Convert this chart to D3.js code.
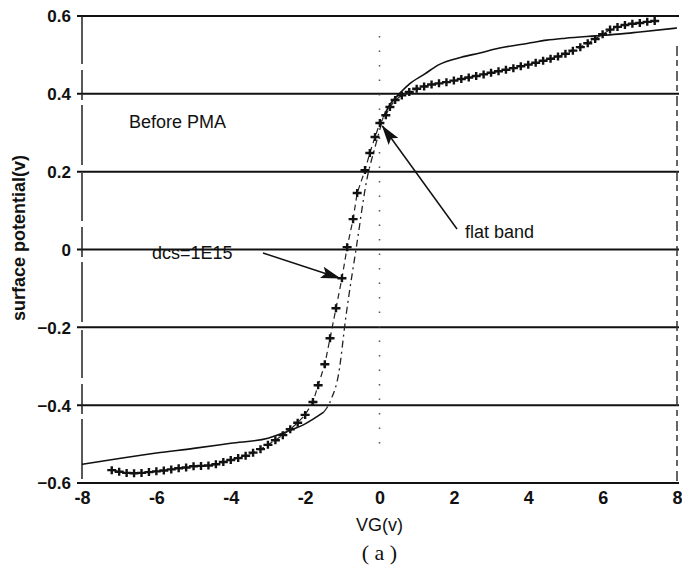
<!DOCTYPE html>
<html>
<head>
<meta charset="utf-8">
<script src="https://cdn.jsdelivr.net/npm/d3@7"></script>
<style>
  body { margin: 0; background: #fff; }
  svg text { font-family: "Liberation Sans", Arial, sans-serif; fill: #111; }
</style>
</head>
<body>
<div id="chart"></div>
<script>
// gate bias (V) vs surface potential (V), before PMA
const yTicks = [-0.6, -0.4, -0.2, 0, 0.2, 0.4, 0.6];
const xTicks = [-8, -6, -4, -2, 0, 2, 4, 6, 8];
const xTickLabels = ['-8', '-6', '-4', '-2', '0', '2', '4', '6', '8'];

// simulated curve (solid)
const modelVg = [-8, -7, -6, -5, -4, -3, -2.5, -2, -1.5, -1.3, -1.1, -0.9, -0.6, -0.35, -0.1, 0.1, 0.3, 0.55, 0.8, 1.2, 1.6, 2.2, 2.7, 3.2, 4, 4.5, 5, 5.8, 6.5, 7, 8];
const modelPsi = [-0.552, -0.537, -0.523, -0.511, -0.498, -0.485, -0.468, -0.448, -0.418, -0.385, -0.32, -0.17, 0.02, 0.175, 0.27, 0.34, 0.375, 0.402, 0.425, 0.45, 0.475, 0.494, 0.505, 0.517, 0.53, 0.538, 0.543, 0.549, 0.554, 0.559, 0.569];

// measured points (+), dcs = 1E15
const measVg = [-7.2, -7.0, -6.8, -6.6, -6.4, -6.2, -6.0, -5.8, -5.6, -5.4, -5.2, -5.0, -4.8, -4.6, -4.4, -4.2, -4.0, -3.8, -3.6, -3.4, -3.2, -3.0, -2.8, -2.6, -2.4, -2.2, -2.0,
  -1.79, -1.65, -1.47, -1.33, -1.17, -1.01, -0.87, -0.71, -0.6, -0.39, -0.26, -0.12, 0.01, 0.17, 0.28, 0.42,
  0.6, 0.8, 1.0, 1.2, 1.4, 1.6, 1.8, 2.0, 2.2, 2.4, 2.6, 2.8, 3.0, 3.2, 3.4, 3.6, 3.8, 4.0, 4.2, 4.4, 4.6, 4.8, 5.0, 5.2, 5.4, 5.6, 5.8, 6.0, 6.2, 6.4, 6.6, 6.8, 7.0, 7.2, 7.4];
const measPsi = [-0.567, -0.571, -0.574, -0.575, -0.574, -0.572, -0.570, -0.568, -0.565, -0.562, -0.560, -0.557, -0.556, -0.555, -0.552, -0.546, -0.541, -0.536, -0.530, -0.522, -0.513, -0.502, -0.490, -0.477, -0.462, -0.445, -0.425,
  -0.392, -0.349, -0.295, -0.228, -0.151, -0.074, 0.006, 0.078, 0.145, 0.204, 0.248, 0.289, 0.325, 0.345, 0.366, 0.384,
  0.396, 0.405, 0.413, 0.419, 0.424, 0.427, 0.430, 0.434, 0.438, 0.442, 0.446, 0.450, 0.454, 0.458, 0.462, 0.466, 0.471, 0.475, 0.480, 0.485, 0.490, 0.496, 0.503, 0.511, 0.520, 0.530, 0.541, 0.553, 0.565, 0.572, 0.577, 0.580, 0.582, 0.585, 0.587];

const W = 682, H = 568;
const margin = {top: 16, right: 5, bottom: 85, left: 82};
const width = W - margin.left - margin.right,
    height = H - margin.top - margin.bottom;

const svg = d3.select('#chart').append('svg')
    .attr('width', W)
    .attr('height', H);

const g = svg.append('g')
    .attr('transform', `translate(${margin.left}, ${margin.top})`);

const x = d3.scaleLinear().domain([-8, 8]).range([0, width]);
const y = d3.scaleLinear().domain([-0.6, 0.6]).range([height, 0]);

svg.append('defs').append('marker')
    .attr('id', 'arrow')
    .attr('viewBox', '0 0 20 14')
    .attr('refX', 19)
    .attr('refY', 7)
    .attr('markerWidth', 20)
    .attr('markerHeight', 14)
    .attr('markerUnits', 'userSpaceOnUse')
    .attr('orient', 'auto')
    .append('path')
    .attr('d', 'M 0 1 L 20 7 L 0 13 L 4 7 Z')
    .style('fill', '#111');

// horizontal grid lines, with a short tick past the left edge
g.selectAll('line.grid').data(yTicks).enter().append('line')
    .attr('class', 'grid')
    .attr('x1', -5)
    .attr('x2', width + 2)
    .attr('y1', d => y(d))
    .attr('y2', d => y(d))
    .attr('stroke', '#111')
    .attr('stroke-width', 2);

// side frames are broken lines
g.append('line')
    .attr('x1', 0).attr('x2', 0)
    .attr('y1', 0).attr('y2', height)
    .attr('stroke', '#222').attr('stroke-width', 1.5)
    .attr('stroke-dasharray', '48,6,30,5,60,8');
g.append('line')
    .attr('x1', width).attr('x2', width)
    .attr('y1', 30).attr('y2', height)
    .attr('stroke', '#333').attr('stroke-width', 1.5)
    .attr('stroke-dasharray', '10,4,6,5');

// dotted line at VG = 0
g.append('line')
    .attr('x1', x(0)).attr('x2', x(0))
    .attr('y1', 20).attr('y2', height - 30)
    .attr('stroke', '#555').attr('stroke-width', 1.5)
    .attr('stroke-dasharray', '1.5,13');

// y tick labels
const yAxis = d3.axisLeft(y).tickValues(yTicks).tickSize(0).tickPadding(6)
    .tickFormat(d => d === 0 ? '0' : d3.format('.1f')(d));
g.append('g').attr('transform', 'translate(-5, 0)').call(yAxis)
    .call(a => a.select('.domain').remove())
    .selectAll('text')
    .style('font-size', '17px')
    .style('font-weight', 'bold')
    .attr('dy', '0.35em');

// x tick labels
const xAxis = d3.axisBottom(x).tickValues(xTicks).tickSize(0).tickPadding(8)
    .tickFormat((d, i) => xTickLabels[i]);
g.append('g').attr('transform', `translate(0, ${height})`).call(xAxis)
    .call(a => a.select('.domain').remove())
    .selectAll('text')
    .style('font-size', '18px')
    .style('font-weight', 'bold');

// model curve
const model = modelVg.map((v, i) => ({vg: v, psi: modelPsi[i]}));
const line = d3.line().x(d => x(d.vg)).y(d => y(d.psi)).curve(d3.curveMonotoneX);
g.append('path')
    .datum(model.filter(d => d.vg <= -1.5))
    .attr('d', line)
    .attr('fill', 'none').attr('stroke', '#111').attr('stroke-width', 1.6);
g.append('path')
    .datum(model.filter(d => d.vg >= -1.5 && d.vg <= 0.1))
    .attr('d', line)
    .attr('fill', 'none').attr('stroke', '#222').attr('stroke-width', 1.3)
    .attr('stroke-dasharray', '7,4,2,4');
g.append('path')
    .datum(model.filter(d => d.vg >= 0.1))
    .attr('d', line)
    .attr('fill', 'none').attr('stroke', '#111').attr('stroke-width', 1.6);

// measured data
const meas = measVg.map((v, i) => ({vg: v, psi: measPsi[i]}));
g.append('path')
    .datum(meas)
    .attr('d', d3.line().x(d => x(d.vg)).y(d => y(d.psi)))
    .attr('fill', 'none').attr('stroke', '#222').attr('stroke-width', 1.2)
    .attr('stroke-dasharray', '6,4');
g.selectAll('path.pt').data(meas).enter().append('path')
    .attr('class', 'pt')
    .attr('transform', d => `translate(${x(d.vg)}, ${y(d.psi)})`)
    .attr('d', 'M -4.5 0 H 4.5 M 0 -4 V 4')
    .attr('stroke', '#111')
    .attr('stroke-width', 2.4);

// annotations
g.append('text')
    .attr('x', 47).attr('y', 112)
    .style('font-size', '18px')
    .text('Before PMA');

g.append('text')
    .attr('x', 383).attr('y', 222)
    .style('font-size', '18px')
    .text('flat band');
g.append('line')
    .attr('x1', 375).attr('y1', 213)
    .attr('x2', x(0.05) + 1).attr('y2', y(0.325) + 3)
    .attr('stroke', '#111').attr('stroke-width', 1.5)
    .attr('marker-end', 'url(#arrow)');

g.append('text')
    .attr('x', 70).attr('y', 243)
    .style('font-size', '18px')
    .text('dcs=1E15');
g.append('line')
    .attr('x1', 181).attr('y1', 237)
    .attr('x2', x(-1.01) - 2).attr('y2', y(-0.074))
    .attr('stroke', '#111').attr('stroke-width', 1.5)
    .attr('marker-end', 'url(#arrow)');

// axis titles
svg.append('text')
    .attr('x', margin.left + x(0)).attr('y', 531)
    .attr('text-anchor', 'middle')
    .style('font-size', '18px')
    .text('VG(v)');
svg.append('text')
    .attr('x', margin.left + x(0)).attr('y', 560)
    .attr('text-anchor', 'middle')
    .style('font-family', '"Liberation Serif", serif')
    .style('font-size', '22px')
    .text('( a )');
svg.append('text')
    .attr('transform', `translate(25, 238) rotate(-90)`)
    .attr('text-anchor', 'middle')
    .style('font-size', '18px')
    .style('font-weight', 'bold')
    .text('surface potential(v)');
</script>
</body>
</html>
